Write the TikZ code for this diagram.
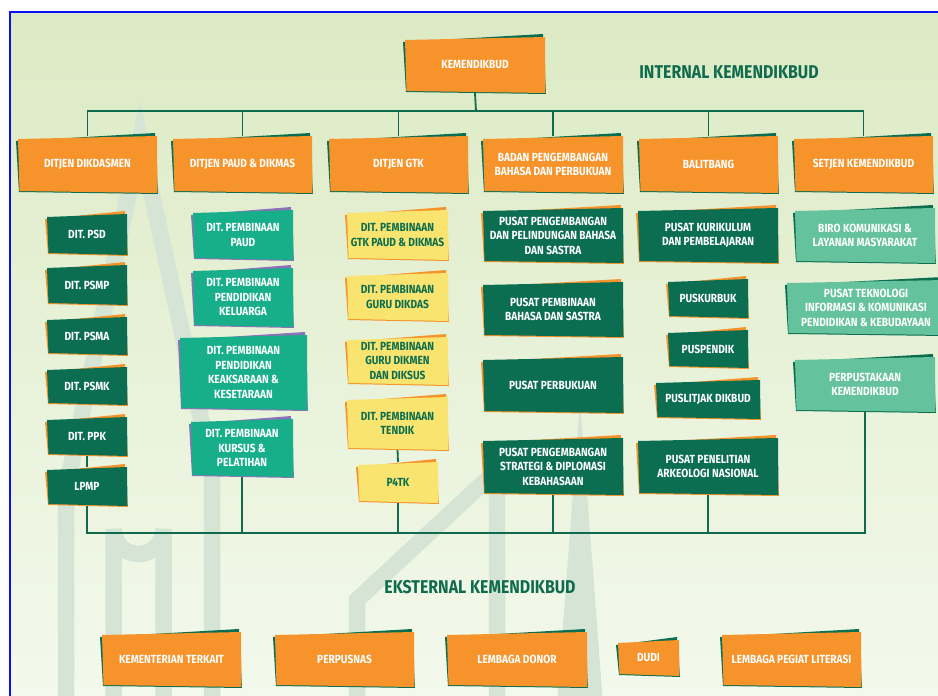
\documentclass[tikz,border=0pt]{standalone}
\usepackage{fontspec}
\setmainfont{Fira Sans}[FakeStretch=0.86]

\definecolor{orgOrange}{HTML}{F6932A}
\definecolor{orgGreen}{HTML}{0B6E50}
\definecolor{orgTeal}{HTML}{16AF8A}
\definecolor{orgPurple}{HTML}{8E72B8}
\definecolor{orgYellow}{HTML}{F8E46F}
\definecolor{orgMint}{HTML}{64C39C}
\definecolor{lineGreen}{HTML}{0F6B4E}
\definecolor{bgTop}{HTML}{DCEAC4}
\definecolor{bgBottom}{HTML}{F3F9EC}
\definecolor{markGreen}{HTML}{D6E4D6}
\definecolor{frameBlue}{HTML}{0A10F5}

\pgfdeclarelayer{backdrop}
\pgfdeclarelayer{links}
\pgfsetlayers{backdrop,links,main}

\tikzset{
  boxtext/.style={inner sep=0pt, align=center,
    font=\bfseries\fontsize{11.8}{14.5}\selectfont},
  heading/.style={inner sep=0pt, text=lineGreen,
    font=\bfseries\fontsize{18.5}{20}\selectfont},
  conn/.style={draw=lineGreen, line width=1.8pt},
  wmark/.style={draw=markGreen, line width=16.5pt, miter limit=12},
}

% #1 name, #2-#5 box bounds (x1,y1,x2,y2), #6 fill, #7 back sheet, #8 text colour, #9 text
\newcommand\orgbox[9]{%
  \fill[#7] (#2-2,#3+5) -- (#4-2,#3-3) -- (#4+1,#5+1) -- (#2+1,#5-1) -- cycle;
  \fill[#6] (#2,#3+3) -- (#4,#3) -- (#4+0.5,#5) -- (#2+1.5,#5-2) -- cycle;
  \node[boxtext, text=#8, minimum width={(#4-#2)*1pt}, minimum height={(#5-#3)*1pt}]
    (#1) at ({(#2+#4)/2},{(#3+#5)/2}) {#9};%
}

\begin{document}
\begin{tikzpicture}[x=1pt, y=-1pt]
\useasboundingbox (0,0) rectangle (938,696);

\begin{pgfonlayer}{backdrop}
  \fill[white] (0,0) rectangle (938,696);
  \shade[top color=bgTop, bottom color=bgBottom] (10,12) rectangle (938,696);
  % faint lettering in the backdrop
  \draw[wmark] (66,704) -- (66,490) -- (140,140) -- (212,470) -- (212,704);
  \draw[wmark] (113.5,704) -- (113.5,529) arc[start angle=180, end angle=0, radius=25] -- (163.5,704);
  \draw[wmark] (357,704) -- (357,600) -- (497,470) -- (497,704);
  \fill[markGreen] (580,400) -- (603,704) -- (557,704) -- cycle;
  % frame
  \draw[frameBlue, line width=2pt] (10,696) -- (10,12) -- (938,12);
\end{pgfonlayer}

% top level
\orgbox{kem}{405}{37}{545}{93}{orgOrange}{orgGreen}{white}{KEMENDIKBUD}
\node[heading] (tint) at (729,72) {INTERNAL KEMENDIKBUD};

% directorates general
\orgbox{dg1}{18}{136}{157}{193}{orgOrange}{orgGreen}{white}{DITJEN DIKDASMEN}
\orgbox{dg2}{173}{136}{312}{193}{orgOrange}{orgGreen}{white}{DITJEN PAUD \& DIKMAS}
\orgbox{dg3}{329}{136}{468}{193}{orgOrange}{orgGreen}{white}{DITJEN GTK}
\orgbox{dg4}{483}{136}{623}{193}{orgOrange}{orgGreen}{white}{BADAN PENGEMBANGAN\\BAHASA DAN PERBUKUAN}
\orgbox{dg5}{639}{136}{778}{193}{orgOrange}{orgGreen}{white}{BALITBANG}
\orgbox{dg6}{794}{136}{933}{193}{orgOrange}{orgGreen}{white}{SETJEN KEMENDIKBUD}

% Ditjen Dikdasmen units
\orgbox{psd}{47}{214}{127}{255}{orgGreen}{orgOrange}{white}{DIT. PSD}
\orgbox{psmp}{47}{265}{127}{305}{orgGreen}{orgOrange}{white}{DIT. PSMP}
\orgbox{psma}{47}{317}{127}{355}{orgGreen}{orgOrange}{white}{DIT. PSMA}
\orgbox{psmk}{47}{367}{127}{405}{orgGreen}{orgOrange}{white}{DIT. PSMK}
\orgbox{ppk}{47}{417}{127}{456}{orgGreen}{orgOrange}{white}{DIT. PPK}
\orgbox{lpmp}{47}{467}{127}{506}{orgGreen}{orgOrange}{white}{LPMP}

% Ditjen PAUD & Dikmas units
\orgbox{paud}{193}{210}{293}{260}{orgTeal}{orgPurple}{white}{DIT. PEMBINAAN\\PAUD}
\orgbox{kel}{193}{268}{293}{327}{orgTeal}{orgPurple}{white}{DIT. PEMBINAAN\\PENDIDIKAN\\KELUARGA}
\orgbox{aks}{180}{335}{307}{410}{orgTeal}{orgPurple}{white}{DIT. PEMBINAAN\\PENDIDIKAN\\KEAKSARAAN \&\\KESETARAAN}
\orgbox{kur}{191}{419}{293}{477}{orgTeal}{orgPurple}{white}{DIT. PEMBINAAN\\KURSUS \&\\PELATIHAN}

% Ditjen GTK units
\orgbox{gtkp}{347}{210}{448}{260}{orgYellow}{orgOrange}{orgGreen}{DIT. PEMBINAAN\\GTK PAUD \& DIKMAS}
\orgbox{gdas}{347}{273}{448}{321}{orgYellow}{orgOrange}{orgGreen}{DIT. PEMBINAAN\\GURU DIKDAS}
\orgbox{gmen}{347}{337}{448}{385}{orgYellow}{orgOrange}{orgGreen}{DIT. PEMBINAAN\\GURU DIKMEN\\DAN DIKSUS}
\orgbox{tendik}{347}{397}{448}{450}{orgYellow}{orgOrange}{orgGreen}{DIT. PEMBINAAN\\TENDIK}
\orgbox{ptk}{358}{462}{438}{503}{orgYellow}{orgOrange}{orgGreen}{P4TK}

% Badan Bahasa units
\orgbox{ppb}{483}{208}{623}{263}{orgGreen}{orgOrange}{white}{PUSAT PENGEMBANGAN\\DAN PELINDUNGAN BAHASA\\DAN SASTRA}
\orgbox{pbs}{483}{282}{623}{337}{orgGreen}{orgOrange}{white}{PUSAT PEMBINAAN\\BAHASA DAN SASTRA}
\orgbox{pbk}{483}{357}{623}{413}{orgGreen}{orgOrange}{white}{PUSAT PERBUKUAN}
\orgbox{psdk}{483}{438}{623}{495}{orgGreen}{orgOrange}{white}{PUSAT PENGEMBANGAN\\STRATEGI \& DIPLOMASI\\KEBAHASAAN}

% Balitbang units
\orgbox{pkp}{638}{208}{778}{263}{orgGreen}{orgOrange}{white}{PUSAT KURIKULUM\\DAN PEMBELAJARAN}
\orgbox{pkb}{668}{279}{748}{318}{orgGreen}{orgOrange}{white}{PUSKURBUK}
\orgbox{ppd}{668}{330}{748}{368}{orgGreen}{orgOrange}{white}{PUSPENDIK}
\orgbox{plj}{656}{380}{760}{419}{orgGreen}{orgOrange}{white}{PUSLITJAK DIKBUD}
\orgbox{arke}{638}{438}{778}{495}{orgGreen}{orgOrange}{white}{PUSAT PENELITIAN\\ARKEOLOGI NASIONAL}

% Setjen units
\orgbox{biro}{795}{208}{935}{263}{orgMint}{orgGreen}{white}{BIRO KOMUNIKASI \&\\LAYANAN MASYARAKAT}
\orgbox{ptik}{787}{280}{945}{335}{orgMint}{orgGreen}{white}{PUSAT TEKNOLOGI\\INFORMASI \& KOMUNIKASI\\PENDIDIKAN \& KEBUDAYAAN}
\orgbox{perp}{795}{357}{935}{412}{orgMint}{orgGreen}{white}{PERPUSTAKAAN\\KEMENDIKBUD}

% external partners
\node[heading] (text) at (480,587) {EKSTERNAL KEMENDIKBUD};
\orgbox{ex1}{102}{632}{241}{687}{orgOrange}{orgGreen}{white}{KEMENTERIAN TERKAIT}
\orgbox{ex2}{275}{632}{414}{687}{orgOrange}{orgGreen}{white}{PERPUSNAS}
\orgbox{ex3}{447}{632}{587}{687}{orgOrange}{orgGreen}{white}{LEMBAGA DONOR}
\orgbox{ex4}{618}{640}{679}{676}{orgOrange}{orgGreen}{white}{DUDI}
\orgbox{ex5}{722}{632}{861}{687}{orgOrange}{orgGreen}{white}{LEMBAGA PEGIAT LITERASI}

% connectors
\coordinate (topbus) at (476,111);
\coordinate (lowbus) at (0,533);
\begin{pgfonlayer}{links}
  \draw[conn] (kem.south) -- (topbus);
  \foreach \n in {dg1,dg2,dg3,dg4,dg5,dg6} \draw[conn] (topbus) -| (\n.north);
  \draw[conn] (ppk.south) -- (lpmp.north);
  \draw[conn] (tendik.south) -- (ptk.north);
  \draw[conn] (lpmp.south) -- (lpmp.south |- lowbus) -- (perp.south |- lowbus) -- (perp.south);
  \foreach \n in {kur,ptk,psdk,arke} \draw[conn] (\n.south) -- (\n.south |- lowbus);
\end{pgfonlayer}
\end{tikzpicture}
\end{document}
